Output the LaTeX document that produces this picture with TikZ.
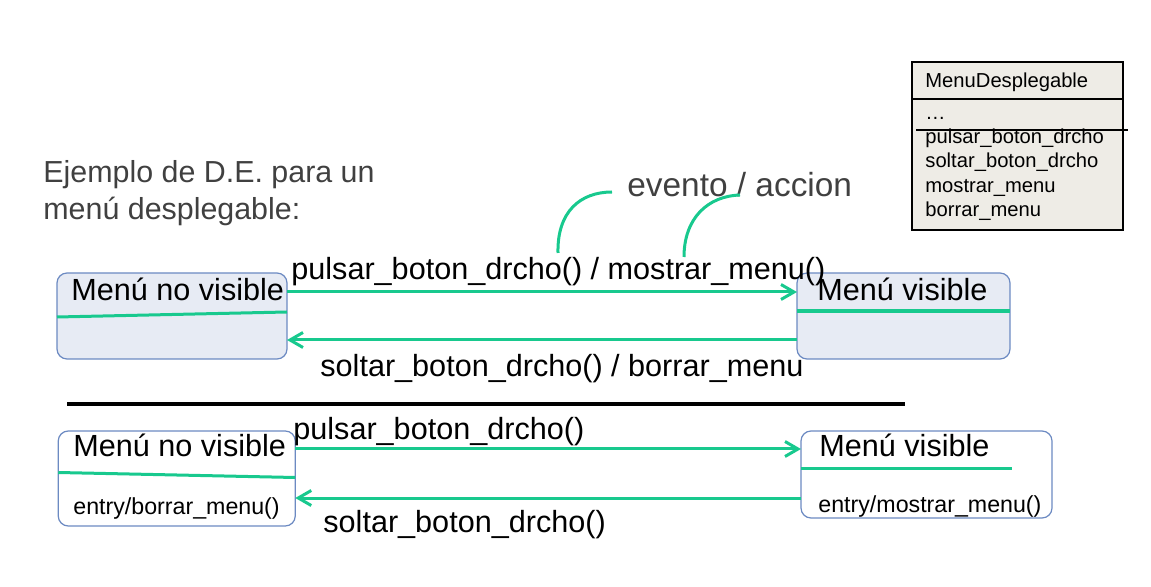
\documentclass[tikz,border=0pt]{standalone}
\usepackage{fontspec}
\setmainfont{Liberation Sans}
\usetikzlibrary{arrows.meta}

\definecolor{trgreen}{RGB}{24,201,142}
\definecolor{stfill}{RGB}{231,235,244}
\definecolor{stborder}{RGB}{108,138,194}
\definecolor{clsfill}{RGB}{238,236,230}
\definecolor{notegray}{RGB}{64,64,64}

\tikzset{
  statebox/.style={draw=stborder, line width=0.6pt, rounded corners=5pt, inner sep=0pt, outer sep=0pt},
  trans/.style={trgreen, line width=1.5pt, -{Straight Barb[length=6.5pt,width=7.5pt,line width=1.5pt]}},
  divider/.style={trgreen, line width=1.5pt},
  lbl/.style={anchor=base west, inner sep=0pt, font=\fontsize{15.3pt}{18pt}\selectfont},
  small/.style={anchor=base west, inner sep=0pt, font=\fontsize{11.6pt}{14pt}\selectfont},
  clstext/.style={anchor=base west, inner sep=0pt, font=\fontsize{10.1pt}{12pt}\selectfont},
  note/.style={anchor=base west, inner sep=0pt, text=notegray}
}

\begin{document}
\begin{tikzpicture}[x=0.5pt, y=-0.5pt]
\useasboundingbox (0,0) rectangle (1151,587);

% explanation
\node[note, font=\fontsize{15.2pt}{18pt}\selectfont] (ej1) at (43,183) {Ejemplo de D.E. para un};
\node[note, font=\fontsize{15.2pt}{18pt}\selectfont] (ej2) at (43,220) {menú desplegable:};
\node[note, font=\fontsize{16.7pt}{20pt}\selectfont] (evac) at (627,197) {evento / accion};

% class box
\node[draw, line width=1pt, fill=clsfill, minimum width=105.5pt, minimum height=84pt, inner sep=0pt] (cls) at (1017.5,146.5) {};
\draw[line width=1pt] (cls.west |- 0,99) -- (cls.east |- 0,99);
\draw[line width=1pt] (916,130) -- (1128,130);
\node[clstext] (cname) at (925,88) {MenuDesplegable};
\node[clstext] (cdots) at (925,120) {\dots};
\node[clstext] (m1) at (925,144) {pulsar\_boton\_drcho};
\node[clstext] (m2) at (925,168) {soltar\_boton\_drcho};
\node[clstext] (m3) at (925,193) {mostrar\_menu};
\node[clstext] (m4) at (925,217) {borrar\_menu};

% first version: actions on transitions
\node[statebox, fill=stfill, minimum width=115pt, minimum height=43pt] (nv1) at (172,316) {};
\node[statebox, fill=stfill, minimum width=106.5pt, minimum height=43pt] (v1) at (903.5,316) {};
\draw[divider] ([yshift=-0.5pt]nv1.west) -- ([yshift=2pt]nv1.east);
\draw[divider, line width=2pt] ([yshift=2.5pt]v1.west) -- ([yshift=2.5pt]v1.east);
\node[lbl] (nv1t) at (71,301) {Menú no visible};
\node[lbl] (v1t) at (817,301) {Menú visible};

\draw[trans] ([yshift=12pt]nv1.east) -- ([yshift=12pt]nv1.east -| v1.west);
\draw[trans] ([yshift=-12pt]v1.west) -- ([yshift=-12pt]v1.west -| nv1.east);
\node[lbl] (t1) at (291,280) {pulsar\_boton\_drcho() / mostrar\_menu()};
\node[lbl] (t2) at (320,377) {soltar\_boton\_drcho() / borrar\_menu};

% pointers to evento / accion
\coordinate (ev) at (558,253);
\coordinate (ac) at (684,257);
\draw[divider] (ev) .. controls (557,212) and (580,192) .. (612,192);
\draw[divider] (ac) .. controls (684,218) and (708,196) .. (740,195);

% separator
\draw[line width=1.8pt] (67,404) -- (905,404);

% second version: entry actions
\node[statebox, fill=white, minimum width=118.5pt, minimum height=47.5pt] (nv2) at (176.75,478.5) {};
\node[statebox, fill=white, minimum width=125.5pt, minimum height=43.5pt] (v2) at (926.5,474.5) {};
\draw[divider] ([yshift=3pt]nv2.west) -- ([yshift=0.5pt]nv2.east);
\draw[divider] ([yshift=2.75pt]v2.west) -- ([yshift=2.75pt,xshift=105.5pt]v2.west);
\node[lbl] (nv2t) at (73,457) {Menú no visible};
\node[small] (nv2e) at (73,514) {entry/borrar\_menu()};
\node[lbl] (v2t) at (819,457) {Menú visible};
\node[small] (v2e) at (818,512) {entry/mostrar\_menu()};

\draw[trans] ([yshift=14.75pt]nv2.east) -- ([yshift=14.75pt]nv2.east -| v2.west);
\draw[trans] ([yshift=-11.75pt]v2.west) -- ([yshift=-11.75pt]v2.west -| nv2.east);
\node[lbl] (t3) at (293,439) {pulsar\_boton\_drcho()};
\node[lbl] (t4) at (323,532) {soltar\_boton\_drcho()};
\end{tikzpicture}
\end{document}
